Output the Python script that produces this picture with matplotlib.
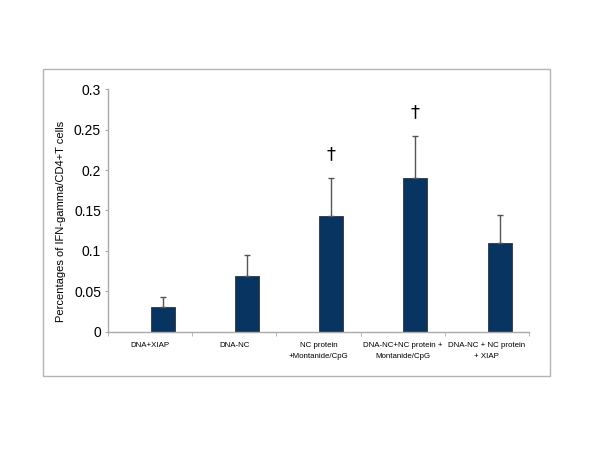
import matplotlib
matplotlib.use("Agg")
import matplotlib.pyplot as plt
from matplotlib.patches import Rectangle
import numpy as np

categories = ["DNA+XIAP", "DNA-NC", "NC protein\n+Montanide/CpG",
              "DNA-NC+NC protein +\nMontanide/CpG", "DNA-NC + NC protein\n+ XIAP"]
values = [0.030, 0.069, 0.143, 0.190, 0.110]
errors = [0.013, 0.026, 0.047, 0.052, 0.035]
dagger = [False, False, True, True, False]
yticks = [0, 0.05, 0.1, 0.15, 0.2, 0.25, 0.3]
yticklabels = ["0", "0.05", "0.1", "0.15", "0.2", "0.25", "0.3"]

fig = plt.figure(figsize=(6, 4.5), dpi=100)
fig.patch.set_facecolor("white")
fig.add_artist(Rectangle((0.0722, 0.1644), 0.845, 0.6817, transform=fig.transFigure,
                         fill=False, edgecolor="#b4b4b4", linewidth=1.0))

ax = fig.add_axes([0.18, 0.2629, 0.7017, 0.5387])
x = np.arange(len(categories))
pos = x + 0.15
bar_color = "#073460"
ax.bar(pos, values, width=0.285, color=bar_color, edgecolor="#333333", linewidth=0.6, zorder=2)
ax.errorbar(pos, values, yerr=[np.zeros(len(values)), errors], fmt="none",
            ecolor="#555555", elinewidth=1.0, capsize=2.5, capthick=1.0, zorder=3)
for p, v, e, d in zip(pos, values, errors, dagger):
    if d:
        ax.text(p, v + e + 0.018, "\u2020", ha="center", va="bottom",
                fontsize=13, family="DejaVu Sans", color="black")

ax.set_xlim(-0.5, len(categories) - 0.5)
ax.set_ylim(0, 0.3)
ax.set_yticks(yticks)
ax.set_yticklabels(yticklabels, family="Liberation Sans", fontsize=10)
ax.set_xticks(x)
ax.set_xticklabels(categories, family="Liberation Sans", fontsize=5.7, linespacing=1.7)
ax.set_xticks(np.arange(len(categories) + 1) - 0.5, minor=True)
ax.tick_params(axis="x", which="major", length=0, pad=7.5)
ax.tick_params(axis="x", which="minor", length=3, color="#aaaaaa", direction="out")
ax.tick_params(axis="y", length=2.5, color="#aaaaaa", direction="out", pad=2.5)
for s in ["top", "right"]:
    ax.spines[s].set_visible(False)
for s in ["left", "bottom"]:
    ax.spines[s].set_color("#aaaaaa")
    ax.spines[s].set_linewidth(1.0)
fig.text(61 / 600, 1 - 221 / 450, "Percentages of IFN-gamma/CD4+T cells", rotation=90,
         ha="center", va="center", family="Liberation Sans", fontsize=8)

fig.savefig("out.png", dpi=100, facecolor="white")
